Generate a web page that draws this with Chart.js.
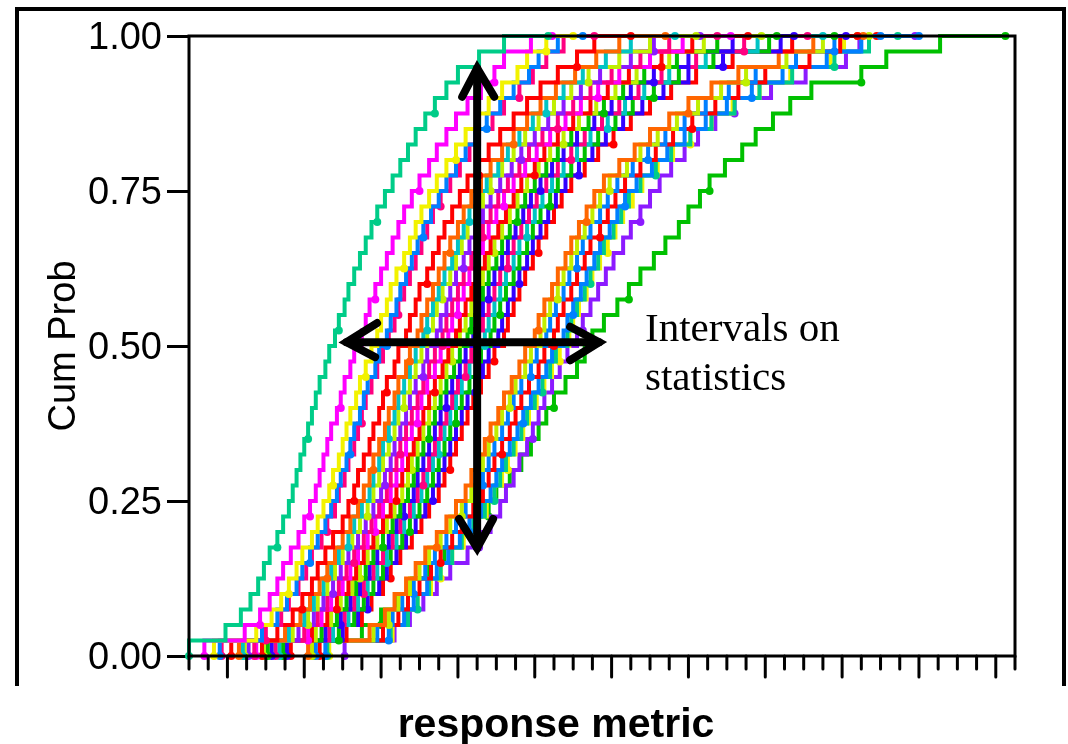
<!DOCTYPE html>
<html>
<head>
<meta charset="utf-8">
<style>
	html, body { margin: 0; padding: 0; background: #fff; }
	canvas { display: block; }
</style>
<script src="https://cdn.jsdelivr.net/npm/chart.js@4/dist/chart.umd.min.js"></script>
</head>
<body>
<canvas id="chart" width="1068" height="744"></canvas>
<script>
const yTickLabels = ['0.00', '0.25', '0.50', '0.75', '1.00'];
const xLabel = 'response metric';
const yLabel = 'Cum Prob';
const noteLines = ['Intervals on', 'statistics'];

// shared cumulative probability levels, every curve has one x value per level
const cumProb = [0, 0.025, 0.05, 0.075, 0.1, 0.125, 0.15, 0.175, 0.2, 0.225, 0.25, 0.275, 0.3, 0.325, 0.35, 0.375, 0.4, 0.425, 0.45, 0.475, 0.5, 0.525, 0.55, 0.575, 0.6, 0.625, 0.65, 0.675, 0.7, 0.725, 0.75, 0.775, 0.8, 0.825, 0.85, 0.875, 0.9, 0.925, 0.95, 0.975, 1];

const teal1 = [0, 1.9, 2.7, 3.2, 3.6, 3.9, 4.2, 4.6, 4.9, 5.2, 5.4, 5.6, 5.8, 6.0, 6.2, 6.4, 6.6, 6.8, 7.1, 7.3, 7.6, 7.8, 8.1, 8.3, 8.6, 8.9, 9.2, 9.5, 9.8, 10.2, 10.6, 11.0, 11.4, 11.8, 12.3, 12.8, 13.4, 14.0, 15.1, 16.4, 18.7];
const magenta1 = [0.8, 2.9, 3.7, 4.2, 4.6, 4.9, 5.3, 5.7, 6.0, 6.3, 6.6, 6.8, 7.0, 7.2, 7.4, 7.7, 7.9, 8.1, 8.4, 8.6, 9.0, 9.2, 9.4, 9.7, 10.0, 10.3, 10.6, 10.9, 11.2, 11.6, 12.0, 12.5, 12.9, 13.4, 13.9, 14.5, 15.2, 15.9, 16.4, 17.8, 18.9];
const yellow1 = [1.3, 3.5, 4.3, 4.8, 5.2, 5.6, 5.9, 6.4, 6.7, 7.0, 7.3, 7.5, 7.8, 8.0, 8.2, 8.4, 8.7, 8.9, 9.2, 9.5, 9.8, 10.0, 10.3, 10.5, 10.8, 11.2, 11.5, 11.8, 12.1, 12.5, 12.9, 13.4, 13.9, 14.4, 15.0, 15.6, 16.3, 17.1, 17.6, 18.6, 20.0];
const blue1 = [1.6, 3.8, 4.6, 5.1, 5.6, 5.9, 6.3, 6.7, 7.1, 7.4, 7.7, 7.9, 8.2, 8.4, 8.6, 8.9, 9.1, 9.3, 9.7, 9.9, 10.3, 10.5, 10.8, 11.0, 11.3, 11.6, 11.9, 12.2, 12.6, 13.0, 13.4, 13.9, 14.4, 14.9, 15.5, 16.2, 16.9, 17.7, 18.2, 19.2, 20.5];
const pink1 = [1.7, 4.0, 4.8, 5.2, 5.7, 6.1, 6.4, 6.9, 7.2, 7.6, 7.8, 8.1, 8.3, 8.6, 8.8, 9.0, 9.2, 9.5, 9.8, 10.1, 10.4, 10.7, 10.9, 11.2, 11.5, 11.8, 12.1, 12.4, 12.7, 13.1, 13.6, 14.1, 14.6, 15.1, 15.8, 16.4, 17.2, 17.9, 18.6, 19.5, 21.1];
const red1 = [2.2, 4.6, 5.4, 5.9, 6.4, 6.7, 7.1, 7.5, 8.0, 8.3, 8.6, 8.8, 9.1, 9.4, 9.6, 9.9, 10.1, 10.3, 10.7, 10.9, 11.3, 11.5, 11.8, 12.0, 12.4, 12.7, 13.0, 13.3, 13.7, 14.1, 14.5, 15.1, 15.6, 16.2, 16.9, 17.6, 18.3, 19.2, 20.2, 21.1, 23.0];
const orange1 = [2.6, 5.0, 5.8, 6.3, 6.8, 7.2, 7.6, 8.0, 8.4, 8.8, 9.1, 9.4, 9.6, 9.9, 10.2, 10.4, 10.7, 10.9, 11.3, 11.5, 11.9, 12.1, 12.4, 12.7, 13.0, 13.3, 13.6, 14.0, 14.3, 14.7, 15.2, 15.7, 16.3, 16.9, 17.6, 18.3, 19.1, 20.1, 21.2, 22.4, 24.8];
const cyan1 = [2.8, 5.2, 6.0, 6.5, 7.0, 7.4, 7.8, 8.3, 8.6, 9.0, 9.4, 9.6, 9.9, 10.1, 10.4, 10.7, 10.9, 11.2, 11.5, 11.8, 12.2, 12.4, 12.7, 13.0, 13.3, 13.7, 14.0, 14.3, 14.6, 15.1, 15.5, 16.1, 16.6, 17.2, 17.9, 18.6, 19.5, 20.5, 21.7, 23.0, 25.3];
const lime1 = [2.9, 5.4, 6.2, 6.7, 7.2, 7.6, 8.0, 8.5, 8.9, 9.3, 9.6, 9.9, 10.1, 10.4, 10.7, 10.9, 11.2, 11.5, 11.8, 12.1, 12.4, 12.7, 12.9, 13.2, 13.6, 13.9, 14.2, 14.5, 14.9, 15.3, 15.7, 16.3, 16.9, 17.5, 18.2, 19.0, 19.9, 20.8, 22.4, 24.0, 26.4];
const purple1 = [3.1, 5.7, 6.5, 7.0, 7.5, 7.9, 8.3, 8.8, 9.2, 9.6, 10.0, 10.2, 10.5, 10.7, 11.0, 11.3, 11.5, 11.8, 12.2, 12.4, 12.9, 13.1, 13.4, 13.6, 13.9, 14.3, 14.6, 14.9, 15.3, 15.7, 16.2, 16.8, 17.3, 18.0, 18.7, 19.5, 20.4, 21.4, 23.0, 24.2, 26.6];
const pink2 = [3.4, 6.0, 6.7, 7.2, 7.8, 8.2, 8.6, 9.1, 9.5, 9.9, 10.3, 10.5, 10.8, 11.0, 11.3, 11.6, 11.9, 12.2, 12.5, 12.8, 13.2, 13.4, 13.7, 14.0, 14.3, 14.7, 15.0, 15.3, 15.7, 16.1, 16.6, 17.2, 17.7, 18.4, 19.2, 20.0, 20.9, 22.0, 23.5, 25.0, 27.5];
const magenta2 = [3.5, 6.2, 6.9, 7.4, 8.0, 8.4, 8.8, 9.3, 9.7, 10.1, 10.5, 10.8, 11.1, 11.3, 11.6, 11.9, 12.1, 12.4, 12.8, 13.1, 13.5, 13.7, 14.0, 14.3, 14.6, 15.0, 15.3, 15.6, 16.0, 16.4, 16.9, 17.5, 18.1, 18.8, 19.6, 20.4, 21.3, 22.4, 24.0, 25.7, 28.2];
const red2 = [3.8, 6.4, 7.2, 7.7, 8.3, 8.7, 9.1, 9.6, 10.1, 10.5, 10.8, 11.1, 11.4, 11.7, 12.0, 12.2, 12.5, 12.8, 13.2, 13.5, 13.9, 14.1, 14.4, 14.7, 15.0, 15.4, 15.7, 16.1, 16.5, 16.9, 17.3, 18.0, 18.5, 19.2, 20.0, 20.9, 21.8, 22.9, 24.6, 26.2, 29.1];
const lime2 = [3.9, 6.6, 7.4, 7.9, 8.5, 8.9, 9.3, 9.8, 10.3, 10.7, 11.1, 11.4, 11.6, 11.9, 12.2, 12.5, 12.8, 13.1, 13.4, 13.7, 14.1, 14.4, 14.7, 14.9, 15.3, 15.6, 15.9, 16.3, 16.7, 17.1, 17.6, 18.2, 18.8, 19.5, 20.3, 21.2, 22.2, 23.3, 25.0, 26.8, 29.8];
const green1 = [4.1, 6.9, 7.7, 8.2, 8.7, 9.2, 9.6, 10.1, 10.6, 11.0, 11.4, 11.7, 11.9, 12.2, 12.5, 12.8, 13.1, 13.4, 13.8, 14.1, 14.5, 14.7, 15.0, 15.3, 15.6, 16.0, 16.3, 16.7, 17.1, 17.5, 18.0, 18.6, 19.2, 19.9, 20.8, 21.6, 22.6, 23.7, 25.4, 27.5, 30.6];
const darkblue1 = [4.3, 7.1, 7.9, 8.4, 8.9, 9.4, 9.8, 10.4, 10.8, 11.2, 11.7, 11.9, 12.2, 12.5, 12.8, 13.1, 13.4, 13.7, 14.1, 14.4, 14.8, 15.0, 15.3, 15.6, 15.9, 16.3, 16.6, 17.0, 17.4, 17.8, 18.3, 18.9, 19.5, 20.2, 21.1, 22.0, 23.0, 24.2, 26.0, 28.3, 31.5];
const pink3 = [4.5, 7.3, 8.1, 8.6, 9.1, 9.6, 10.1, 10.6, 11.0, 11.5, 11.9, 12.2, 12.5, 12.8, 13.1, 13.4, 13.7, 14.0, 14.4, 14.7, 15.1, 15.3, 15.6, 15.9, 16.2, 16.6, 16.9, 17.3, 17.7, 18.1, 18.6, 19.2, 19.9, 20.6, 21.5, 22.4, 23.4, 24.6, 26.4, 28.9, 32.2];
const cyan2 = [4.7, 7.5, 8.3, 8.8, 9.3, 9.8, 10.3, 10.8, 11.2, 11.7, 12.1, 12.4, 12.7, 13.0, 13.3, 13.6, 13.9, 14.2, 14.6, 14.9, 15.4, 15.6, 15.9, 16.2, 16.5, 16.9, 17.2, 17.6, 18.0, 18.4, 18.9, 19.5, 20.2, 20.9, 21.8, 22.7, 23.7, 25.0, 26.9, 29.6, 33.0];
const green2 = [4.9, 7.8, 8.6, 9.1, 9.6, 10.1, 10.5, 11.1, 11.5, 12.0, 12.4, 12.7, 13.0, 13.3, 13.6, 13.9, 14.2, 14.6, 15.0, 15.2, 15.7, 15.9, 16.2, 16.5, 16.9, 17.2, 17.6, 17.9, 18.3, 18.8, 19.2, 19.9, 20.6, 21.3, 22.2, 23.1, 24.2, 25.5, 27.3, 30.2, 33.6];
const darkblue2 = [5.1, 8.0, 8.8, 9.3, 9.9, 10.3, 10.8, 11.3, 11.8, 12.3, 12.7, 13.0, 13.3, 13.6, 13.9, 14.2, 14.5, 14.9, 15.3, 15.6, 16.1, 16.3, 16.6, 16.9, 17.2, 17.6, 17.9, 18.3, 18.7, 19.1, 19.6, 20.3, 21.0, 21.7, 22.6, 23.6, 24.7, 26.0, 27.8, 30.8, 34.2];
const red3 = [5.3, 8.2, 9.0, 9.5, 10.1, 10.5, 11.0, 11.6, 12.1, 12.5, 13.0, 13.3, 13.6, 13.9, 14.2, 14.5, 14.8, 15.2, 15.6, 15.9, 16.4, 16.6, 16.9, 17.2, 17.5, 17.9, 18.2, 18.6, 19.0, 19.4, 19.9, 20.6, 21.3, 22.1, 23.0, 24.0, 25.1, 26.4, 28.3, 31.4, 34.8];
const orange2 = [6.2, 9.4, 10.2, 10.7, 11.3, 11.8, 12.3, 12.9, 13.4, 13.9, 14.4, 14.7, 15.0, 15.4, 15.7, 16.1, 16.4, 16.8, 17.2, 17.5, 18.0, 18.2, 18.5, 18.9, 19.2, 19.6, 19.9, 20.3, 20.7, 21.1, 21.6, 22.4, 23.2, 24.0, 25.0, 26.0, 27.2, 28.6, 30.7, 32.5, 35.1];
const lime3 = [6.4, 9.6, 10.4, 10.9, 11.5, 12.0, 12.5, 13.1, 13.6, 14.2, 14.7, 15.0, 15.3, 15.6, 16.0, 16.3, 16.7, 17.0, 17.5, 17.8, 18.3, 18.5, 18.8, 19.2, 19.5, 19.9, 20.2, 20.6, 21.0, 21.4, 21.9, 22.8, 23.5, 24.4, 25.4, 26.5, 27.7, 29.0, 31.1, 33.0, 35.4];
const blue2 = [6.6, 9.8, 10.6, 11.1, 11.7, 12.3, 12.8, 13.4, 13.9, 14.4, 14.9, 15.3, 15.6, 15.9, 16.3, 16.6, 16.9, 17.3, 17.8, 18.1, 18.6, 18.8, 19.1, 19.5, 19.8, 20.2, 20.5, 20.9, 21.4, 21.8, 22.3, 23.1, 23.9, 24.8, 25.8, 26.9, 28.1, 29.5, 31.6, 33.6, 36.0];
const red4 = [6.8, 10.1, 10.9, 11.4, 12.0, 12.6, 13.1, 13.7, 14.2, 14.8, 15.3, 15.6, 15.9, 16.3, 16.7, 17.0, 17.3, 17.7, 18.2, 18.5, 19.0, 19.2, 19.5, 19.9, 20.2, 20.6, 20.9, 21.4, 21.8, 22.2, 22.7, 23.5, 24.3, 25.2, 26.2, 27.4, 28.6, 30.0, 32.3, 33.9, 35.8];
const blue3 = [7.1, 10.4, 11.2, 11.7, 12.4, 12.9, 13.5, 14.1, 14.6, 15.2, 15.7, 16.0, 16.3, 16.7, 17.1, 17.4, 17.8, 18.2, 18.6, 18.9, 19.5, 19.7, 20.0, 20.4, 20.7, 21.1, 21.4, 21.9, 22.3, 22.7, 23.3, 24.1, 24.9, 25.8, 26.9, 28.0, 29.3, 30.9, 33.2, 35.0, 38.0];
const teal2 = [7.2, 10.5, 11.4, 11.9, 12.5, 13.1, 13.7, 14.2, 14.8, 15.4, 15.9, 16.2, 16.5, 16.9, 17.3, 17.6, 18.0, 18.4, 18.8, 19.1, 19.7, 19.9, 20.2, 20.6, 20.9, 21.3, 21.6, 22.1, 22.5, 22.9, 23.5, 24.3, 25.1, 26.1, 27.2, 28.4, 29.7, 31.4, 33.6, 35.4, 36.9];
const yellow2 = [7.3, 10.6, 11.4, 11.9, 12.6, 13.1, 13.7, 14.3, 14.9, 15.5, 15.9, 16.3, 16.6, 17.0, 17.4, 17.7, 18.1, 18.5, 18.9, 19.3, 19.8, 20.0, 20.3, 20.7, 21.0, 21.4, 21.8, 22.2, 22.6, 23.1, 23.6, 24.4, 25.2, 26.1, 27.2, 28.3, 29.7, 31.3, 33.4, 34.1, 34.8];
const purple2 = [8.1, 10.7, 11.5, 12.2, 12.9, 13.6, 14.5, 15.1, 15.7, 16.2, 16.5, 16.9, 17.2, 17.6, 17.9, 18.2, 18.5, 18.9, 19.3, 19.7, 20.2, 20.5, 20.9, 21.3, 21.7, 22.1, 22.6, 23.0, 23.5, 24.0, 24.5, 25.1, 25.8, 26.5, 27.4, 28.4, 30.3, 32.1, 34.2, 34.9, 37.8];
const green3 = [6.5, 9.0, 10.0, 10.8, 11.6, 12.5, 13.3, 14.2, 15.0, 15.6, 16.0, 16.7, 17.3, 17.8, 18.2, 18.6, 19.0, 19.6, 20.2, 20.6, 21.0, 21.6, 22.3, 22.9, 23.5, 24.2, 24.8, 25.5, 26.0, 26.6, 27.1, 27.9, 28.8, 29.5, 30.4, 31.3, 32.4, 35.0, 36.3, 39.1, 42.5];

const curves = [teal1, magenta1, yellow1, blue1, pink1, red1, orange1, cyan1, lime1, purple1, pink2, magenta2, red2, lime2, green1, darkblue1, pink3, cyan2, green2, darkblue2, red3, orange2, lime3, blue2, red4, blue3, teal2, yellow2, purple2, green3];
const curveColors = ['#00cc88', '#ff00ff', '#f2f200', '#0080ff', '#ff0080', '#ff0000', '#ff6600', '#00c4c4', '#bfef00', '#8c1aff', '#ff0080', '#ff00ff', '#ff0000', '#bfef00', '#00c000', '#3300ff', '#ff0080', '#00c4c4', '#00c000', '#3300ff', '#ff0000', '#ff6600', '#bfef00', '#0080ff', '#ff0000', '#0080ff', '#00cc88', '#f2f200', '#8c1aff', '#00c000'];

// arrows, in axis units
const arrowVerticalX = [15.0, 15.0];
const arrowVerticalY = [0.948, 0.174];
const arrowHorizontalX = [8.2, 21.35];
const arrowHorizontalY = [0.506, 0.506];
const headUpX = [14.22, 15.0, 15.89];
const headUpY = [0.902, 0.948, 0.902];
const headDownX = [14.06, 15.0, 15.83];
const headDownY = [0.221, 0.174, 0.221];
const headLeftX = [9.79, 8.2, 9.69];
const headLeftY = [0.537, 0.506, 0.482];
const headRightX = [19.84, 21.35, 19.84];
const headRightY = [0.531, 0.506, 0.477];

const zip = (xs, ys) => xs.map((x, i) => ({ x, y: ys[i] }));

const arrowDataset = (xs, ys) => ({
	data: zip(xs, ys),
	showLine: true,
	borderColor: '#000',
	borderWidth: 8,
	borderCapStyle: 'round',
	borderJoinStyle: 'miter',
	pointRadius: 0,
	clip: false
});

const curveDatasets = curves.map((xs, n) => ({
	data: zip(xs, cumProb),
	showLine: true,
	stepped: 'after',
	borderColor: curveColors[n],
	backgroundColor: curveColors[n],
	borderWidth: 4,
	borderJoinStyle: 'miter',
	clip: false,
	pointBorderWidth: 0,
	// the ends always have a dot, in between only here and there
	pointRadius: ctx => {
		const i = ctx.dataIndex;
		if (i === 0 || i === xs.length - 1) {
			return 4;
		}
		return (i + n * 5) % 7 === 0 ? 4 : 0;
	}
}));

const frame = {
	id: 'frame',
	afterDatasetsDraw(chart) {
		const { ctx, chartArea: { left, right, top, bottom }, scales: { x } } = chart;
		ctx.save();
		ctx.strokeStyle = '#000';
		ctx.lineWidth = 3;
		ctx.strokeRect(left, top, right - left, bottom - top);

		// x ticks: every fourth one is long
		ctx.lineCap = 'round';
		x.ticks.forEach(tick => {
			const px = x.getPixelForValue(tick.value);
			const long = (tick.value - 2) % 4 === 0;
			ctx.beginPath();
			ctx.moveTo(px, bottom);
			ctx.lineTo(px, bottom + (long ? 21 : 13));
			ctx.stroke();
		});
		ctx.lineCap = 'butt';

		// outer box, open at the bottom
		ctx.lineWidth = 4;
		ctx.beginPath();
		ctx.moveTo(17, 686);
		ctx.lineTo(17, 9);
		ctx.lineTo(1064, 9);
		ctx.lineTo(1064, 686);
		ctx.stroke();

		ctx.fillStyle = '#000';
		ctx.textBaseline = 'middle';
		ctx.textAlign = 'center';
		ctx.font = 'bold 41px "Liberation Sans"';
		ctx.fillText(xLabel, 556, 726);

		ctx.textAlign = 'left';
		ctx.font = '41px "Liberation Serif"';
		ctx.fillText(noteLines[0], 645, 330);
		ctx.fillText(noteLines[1], 645, 379);
		ctx.restore();
	}
};

new Chart(document.getElementById('chart'), {
	type: 'scatter',
	data: {
		datasets: [
			arrowDataset(arrowVerticalX, arrowVerticalY),
			arrowDataset(arrowHorizontalX, arrowHorizontalY),
			arrowDataset(headUpX, headUpY),
			arrowDataset(headDownX, headDownY),
			arrowDataset(headLeftX, headLeftY),
			arrowDataset(headRightX, headRightY),
			...curveDatasets
		]
	},
	options: {
		responsive: false,
		animation: false,
		layout: { padding: { top: 36, right: 53 } },
		plugins: {
			legend: { display: false },
			tooltip: { enabled: false }
		},
		scales: {
			x: {
				type: 'linear',
				min: 0,
				max: 43,
				grid: { display: false },
				border: { display: false },
				ticks: { display: false, stepSize: 1, autoSkip: false },
				afterFit: scale => { scale.height = 88; }
			},
			y: {
				min: 0,
				max: 1,
				grid: {
					drawOnChartArea: false,
					tickLength: 22,
					tickWidth: 3,
					tickColor: '#000'
				},
				border: { display: false },
				ticks: {
					stepSize: 0.25,
					padding: 5,
					labelOffset: 3,
					color: '#000',
					font: { family: '"Liberation Sans"', size: 38 },
					callback: (value, i) => yTickLabels[i]
				},
				title: {
					display: true,
					text: yLabel,
					color: '#000',
					font: { family: '"Liberation Sans"', size: 38 },
					padding: { top: 42, bottom: 0 }
				},
				afterFit: scale => { scale.width = 189; }
			}
		}
	},
	plugins: [frame]
});
</script>
</body>
</html>
